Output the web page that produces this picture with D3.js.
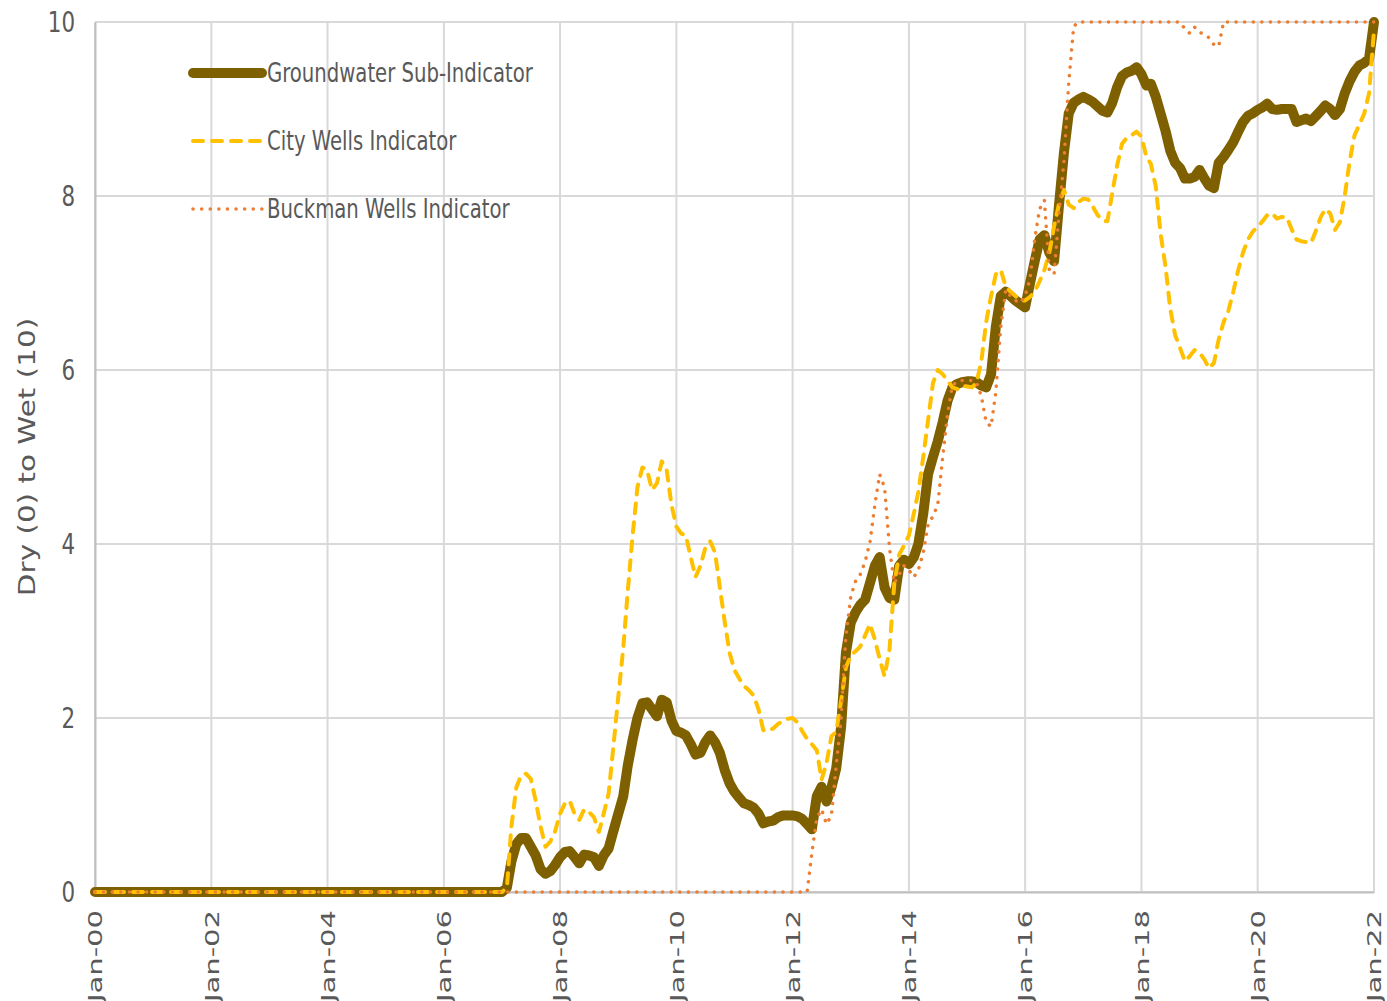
<!DOCTYPE html>
<html>
<head>
<meta charset="utf-8">
<script src="https://cdn.jsdelivr.net/npm/d3@7"></script>
<style>
  body { margin: 0; background: #fff; }
  svg { display: block; }
</style>
</head>
<body>
<svg id="chart" width="1387" height="1001"></svg>
<script>
// monthly readings, [month, value]; flat stretches keep only their ends
var groundwater = [
  ["2000-01",0],["2007-01",0],["2007-02",0.05],["2007-03",0.35],["2007-04",0.55],["2007-05",0.62],["2007-06",0.62],
  ["2007-07",0.52],["2007-08",0.42],["2007-09",0.26],["2007-10",0.21],["2007-11",0.24],["2007-12",0.31],
  ["2008-01",0.40],["2008-02",0.46],["2008-03",0.47],["2008-04",0.40],["2008-05",0.33],["2008-06",0.43],
  ["2008-07",0.42],["2008-08",0.40],["2008-09",0.30],["2008-10",0.42],["2008-11",0.50],["2008-12",0.70],
  ["2009-01",0.90],["2009-02",1.10],["2009-03",1.45],["2009-04",1.75],["2009-05",2.00],["2009-06",2.17],
  ["2009-07",2.18],["2009-08",2.10],["2009-09",2.02],["2009-10",2.21],["2009-11",2.18],["2009-12",1.97],
  ["2010-01",1.85],["2010-02",1.83],["2010-03",1.80],["2010-04",1.70],["2010-05",1.58],["2010-06",1.60],
  ["2010-07",1.72],["2010-08",1.80],["2010-09",1.72],["2010-10",1.60],["2010-11",1.40],["2010-12",1.25],
  ["2011-01",1.15],["2011-02",1.08],["2011-03",1.02],["2011-04",1.00],["2011-05",0.97],["2011-06",0.90],
  ["2011-07",0.79],["2011-08",0.81],["2011-09",0.82],["2011-10",0.86],["2011-11",0.88],["2011-12",0.88],
  ["2012-01",0.88],["2012-02",0.87],["2012-03",0.84],["2012-04",0.78],["2012-05",0.72],["2012-06",1.10],
  ["2012-07",1.21],["2012-08",1.04],["2012-09",1.20],["2012-10",1.42],["2012-11",1.90],["2012-12",2.75],
  ["2013-01",3.10],["2013-02",3.22],["2013-03",3.30],["2013-04",3.36],["2013-05",3.55],["2013-06",3.75],
  ["2013-07",3.85],["2013-08",3.50],["2013-09",3.38],["2013-10",3.36],["2013-11",3.75],["2013-12",3.82],
  ["2014-01",3.77],["2014-02",3.85],["2014-03",4.00],["2014-04",4.35],["2014-05",4.80],["2014-06",5.00],
  ["2014-07",5.18],["2014-08",5.40],["2014-09",5.65],["2014-10",5.80],["2014-11",5.84],["2014-12",5.86],
  ["2015-01",5.87],["2015-02",5.87],["2015-03",5.86],["2015-04",5.82],["2015-05",5.80],["2015-06",5.95],
  ["2015-07",6.50],["2015-08",6.85],["2015-09",6.90],["2015-10",6.85],["2015-11",6.80],["2015-12",6.76],
  ["2016-01",6.72],["2016-02",7.00],["2016-03",7.25],["2016-04",7.50],["2016-05",7.55],["2016-06",7.35],
  ["2016-07",7.25],["2016-08",7.90],["2016-09",8.50],["2016-10",8.95],["2016-11",9.07],["2016-12",9.11],
  ["2017-01",9.14],["2017-02",9.11],["2017-03",9.08],["2017-04",9.03],["2017-05",8.98],["2017-06",8.96],
  ["2017-07",9.07],["2017-08",9.25],["2017-09",9.38],["2017-10",9.42],["2017-11",9.44],["2017-12",9.48],
  ["2018-01",9.40],["2018-02",9.27],["2018-03",9.29],["2018-04",9.14],["2018-05",8.95],["2018-06",8.75],
  ["2018-07",8.52],["2018-08",8.38],["2018-09",8.32],["2018-10",8.20],["2018-11",8.20],["2018-12",8.22],
  ["2019-01",8.30],["2019-02",8.20],["2019-03",8.12],["2019-04",8.09],["2019-05",8.38],["2019-06",8.45],
  ["2019-07",8.53],["2019-08",8.62],["2019-09",8.74],["2019-10",8.85],["2019-11",8.92],["2019-12",8.95],
  ["2020-01",8.99],["2020-02",9.02],["2020-03",9.06],["2020-04",9.00],["2020-05",8.99],["2020-06",9.00],
  ["2020-07",9.00],["2020-08",9.00],["2020-09",8.85],["2020-10",8.87],["2020-11",8.89],["2020-12",8.86],
  ["2021-01",8.92],["2021-02",8.98],["2021-03",9.04],["2021-04",9.00],["2021-05",8.93],["2021-06",9.00],
  ["2021-07",9.18],["2021-08",9.32],["2021-09",9.43],["2021-10",9.50],["2021-11",9.53],["2021-12",9.58],
  ["2022-01",10.0]
];

var cityWells = [
  ["2000-01",0],["2007-01",0],["2007-02",0.05],["2007-03",0.75],["2007-04",1.20],["2007-05",1.34],["2007-06",1.36],
  ["2007-07",1.30],["2007-08",1.05],["2007-09",0.75],["2007-10",0.52],["2007-11",0.58],["2007-12",0.70],
  ["2008-01",0.90],["2008-02",1.02],["2008-03",1.05],["2008-04",0.90],["2008-05",0.83],["2008-06",0.95],
  ["2008-07",0.92],["2008-08",0.86],["2008-09",0.69],["2008-10",0.90],["2008-11",1.13],["2008-12",1.67],
  ["2009-01",2.25],["2009-02",2.80],["2009-03",3.45],["2009-04",4.10],["2009-05",4.65],["2009-06",4.88],
  ["2009-07",4.85],["2009-08",4.62],["2009-09",4.70],["2009-10",4.95],["2009-11",4.85],["2009-12",4.45],
  ["2010-01",4.20],["2010-02",4.12],["2010-03",4.10],["2010-04",3.85],["2010-05",3.62],["2010-06",3.75],
  ["2010-07",3.95],["2010-08",4.03],["2010-09",3.90],["2010-10",3.50],["2010-11",3.10],["2010-12",2.75],
  ["2011-01",2.55],["2011-02",2.45],["2011-03",2.37],["2011-04",2.32],["2011-05",2.26],["2011-06",2.10],
  ["2011-07",1.86],["2011-08",1.85],["2011-09",1.88],["2011-10",1.93],["2011-11",1.97],["2011-12",1.99],
  ["2012-01",2.00],["2012-02",1.95],["2012-03",1.85],["2012-04",1.76],["2012-05",1.70],["2012-06",1.63],
  ["2012-07",1.29],["2012-08",1.48],["2012-09",1.79],["2012-10",1.84],["2012-11",2.20],["2012-12",2.58],
  ["2013-01",2.72],["2013-02",2.77],["2013-03",2.82],["2013-04",2.95],["2013-05",3.08],["2013-06",2.90],
  ["2013-07",2.68],["2013-08",2.48],["2013-09",2.79],["2013-10",3.55],["2013-11",3.88],["2013-12",3.98],
  ["2014-01",4.10],["2014-02",4.35],["2014-03",4.60],["2014-04",5.00],["2014-05",5.42],["2014-06",5.85],
  ["2014-07",6.00],["2014-08",5.95],["2014-09",5.88],["2014-10",5.80],["2014-11",5.78],["2014-12",5.82],
  ["2015-01",5.81],["2015-02",5.80],["2015-03",5.85],["2015-04",6.10],["2015-05",6.55],["2015-06",6.85],
  ["2015-07",7.10],["2015-08",7.15],["2015-09",6.96],["2015-10",6.90],["2015-11",6.85],["2015-12",6.80],
  ["2016-01",6.80],["2016-02",6.84],["2016-03",6.90],["2016-04",7.02],["2016-05",7.15],["2016-06",7.35],
  ["2016-07",7.65],["2016-08",7.91],["2016-09",8.07],["2016-10",7.90],["2016-11",7.86],["2016-12",7.93],
  ["2017-01",7.97],["2017-02",7.96],["2017-03",7.88],["2017-04",7.78],["2017-05",7.72],["2017-06",7.71],
  ["2017-07",8.03],["2017-08",8.35],["2017-09",8.60],["2017-10",8.67],["2017-11",8.70],["2017-12",8.74],
  ["2018-01",8.68],["2018-02",8.45],["2018-03",8.37],["2018-04",8.11],["2018-05",7.57],["2018-06",7.19],
  ["2018-07",6.70],["2018-08",6.40],["2018-09",6.25],["2018-10",6.10],["2018-11",6.16],["2018-12",6.23],
  ["2019-01",6.20],["2019-02",6.12],["2019-03",6.02],["2019-04",6.08],["2019-05",6.35],["2019-06",6.55],
  ["2019-07",6.68],["2019-08",6.90],["2019-09",7.15],["2019-10",7.35],["2019-11",7.50],["2019-12",7.59],
  ["2020-01",7.65],["2020-02",7.71],["2020-03",7.78],["2020-04",7.80],["2020-05",7.74],["2020-06",7.76],
  ["2020-07",7.76],["2020-08",7.62],["2020-09",7.50],["2020-10",7.48],["2020-11",7.47],["2020-12",7.46],
  ["2021-01",7.60],["2021-02",7.76],["2021-03",7.85],["2021-04",7.80],["2021-05",7.61],["2021-06",7.70],
  ["2021-07",8.00],["2021-08",8.40],["2021-09",8.70],["2021-10",8.82],["2021-11",8.95],["2021-12",9.18],
  ["2022-01",9.90]
];

var buckmanWells = [
  ["2000-01",0],["2012-04",0],["2012-05",0.45],["2012-06",0.85],["2012-07",0.95],["2012-08",0.78],["2012-09",0.88],
  ["2012-10",1.45],["2012-11",2.00],["2012-12",2.95],
  ["2013-01",3.40],["2013-02",3.58],["2013-03",3.65],["2013-04",3.80],["2013-05",4.02],["2013-06",4.45],
  ["2013-07",4.80],["2013-08",4.65],["2013-09",3.95],["2013-10",3.55],["2013-11",3.65],["2013-12",3.75],
  ["2014-01",3.70],["2014-02",3.62],["2014-03",3.70],["2014-04",3.90],["2014-05",4.22],["2014-06",4.32],
  ["2014-07",4.45],["2014-08",5.00],["2014-09",5.50],["2014-10",5.82],["2014-11",5.87],["2014-12",5.88],
  ["2015-01",5.88],["2015-02",5.88],["2015-03",5.86],["2015-04",5.70],["2015-05",5.40],["2015-06",5.35],
  ["2015-07",5.75],["2015-08",6.50],["2015-09",6.92],["2015-10",6.85],["2015-11",6.80],["2015-12",6.77],
  ["2016-01",6.85],["2016-02",7.05],["2016-03",7.50],["2016-04",7.85],["2016-05",7.95],["2016-06",7.15],
  ["2016-07",7.10],["2016-08",7.80],["2016-09",8.40],["2016-10",9.30],["2016-11",9.95],["2016-12",10],
  ["2018-09",10],["2018-10",9.92],["2018-11",9.87],["2018-12",9.94],
  ["2019-01",9.88],["2019-02",9.86],["2019-03",9.82],["2019-04",9.74],["2019-05",9.72],["2019-06",10],
  ["2022-01",10]
];

var yTicks = [0, 2, 4, 6, 8, 10];
var xTickYears = [2000, 2002, 2004, 2006, 2008, 2010, 2012, 2014, 2016, 2018, 2020, 2022];

var seriesNames = ["Groundwater Sub-Indicator", "City Wells Indicator", "Buckman Wells Indicator"];
var seriesColors = ["#7f6000", "#ffc000", "#ed7d31"];

var margin = {top: 22, right: 13, bottom: 109, left: 95},
    width = 1387 - margin.left - margin.right,
    height = 1001 - margin.top - margin.bottom;

var narrowFont = "'DejaVu Sans Condensed', 'Liberation Sans Narrow', sans-serif";
var wideFont = "'DejaVu Sans', Verdana, sans-serif";

var parseMonth = d3.timeParse("%Y-%m");
var fmt = d3.timeFormat("Jan-%y");

var svg = d3.select("#chart");
var g = svg.append("g").attr("transform", "translate(" + margin.left + "," + margin.top + ")");

var x = d3.scaleTime()
    .domain([new Date(2000, 0, 1), new Date(2022, 0, 1)])
    .range([0, width]);

var y = d3.scaleLinear()
    .domain([0, 10])
    .range([height, 0]);

var xTicks = xTickYears.map(function(yr) { return new Date(yr, 0, 1); });

// grid
g.append("g")
  .selectAll("line.h")
  .data(yTicks)
  .enter().append("line")
  .attr("x1", 0).attr("x2", width)
  .attr("y1", function(d) { return y(d); })
  .attr("y2", function(d) { return y(d); })
  .attr("stroke", "#d9d9d9")
  .attr("stroke-width", 2);

g.append("g")
  .selectAll("line.v")
  .data(xTicks)
  .enter().append("line")
  .attr("x1", function(d) { return x(d); })
  .attr("x2", function(d) { return x(d); })
  .attr("y1", 0).attr("y2", height)
  .attr("stroke", "#d9d9d9")
  .attr("stroke-width", 2);

// axes
var yAxis = g.append("g")
  .call(d3.axisLeft(y).tickValues(yTicks).tickSize(0));
yAxis.select(".domain").attr("stroke", "#bfbfbf").attr("stroke-width", 2);
yAxis.selectAll("text")
  .attr("x", 0).attr("dy", null)
  .attr("dominant-baseline", "central")
  .attr("transform", "translate(-20,0) scale(0.85,1)")
  .attr("fill", "#595959")
  .style("font-family", narrowFont)
  .style("font-size", "28px");

var xAxis = g.append("g")
  .attr("transform", "translate(0," + height + ")")
  .call(d3.axisBottom(x).tickValues(xTicks).tickFormat(fmt).tickSize(0));
xAxis.select(".domain").attr("stroke", "#bfbfbf").attr("stroke-width", 2);
xAxis.selectAll("text")
  .attr("fill", "#595959")
  .attr("y", 0).attr("dy", null)
  .attr("text-anchor", "end")
  .attr("dominant-baseline", "central")
  .attr("transform", "translate(0,18) rotate(-90) scale(1.45,1)")
  .style("font-family", wideFont)
  .style("font-size", "20px");

// y title
svg.append("text")
  .attr("transform", "translate(27," + (margin.top + height / 2 + 0) + ") rotate(-90) scale(1.28,1)")
  .attr("text-anchor", "middle")
  .attr("dominant-baseline", "central")
  .attr("fill", "#595959")
  .style("font-family", wideFont)
  .style("font-size", "23px")
  .text("Dry (0) to Wet (10)");

// lines
var line = d3.line()
  .x(function(d) { return x(parseMonth(d[0])); })
  .y(function(d) { return y(d[1]); });

var styles = [
  {width: 10, dash: null},
  {width: 4, dash: "10 9"},
  {width: 3.5, dash: "0.1 8.5"}
];

[groundwater, cityWells, buckmanWells].forEach(function(data, i) {
  g.append("path")
    .datum(data)
    .attr("fill", "none")
    .attr("stroke", seriesColors[i])
    .attr("stroke-width", styles[i].width)
    .attr("stroke-linejoin", "round")
    .attr("stroke-linecap", "round")
    .attr("stroke-dasharray", styles[i].dash)
    .attr("d", line);
});

// legend
var legend = svg.append("g");
seriesNames.forEach(function(name, i) {
  var ly = 73 + i * 68;
  legend.append("line")
    .attr("x1", 193).attr("x2", 262)
    .attr("y1", ly).attr("y2", ly)
    .attr("stroke", seriesColors[i])
    .attr("stroke-width", styles[i].width)
    .attr("stroke-linecap", "round")
    .attr("stroke-dasharray", styles[i].dash);
  legend.append("text")
    .attr("transform", "translate(267," + ly + ") scale(0.81,1)")
    .attr("dominant-baseline", "central")
    .attr("fill", "#595959")
    .style("font-family", narrowFont)
    .style("font-size", "27px")
    .text(name);
});
</script>
</body>
</html>
